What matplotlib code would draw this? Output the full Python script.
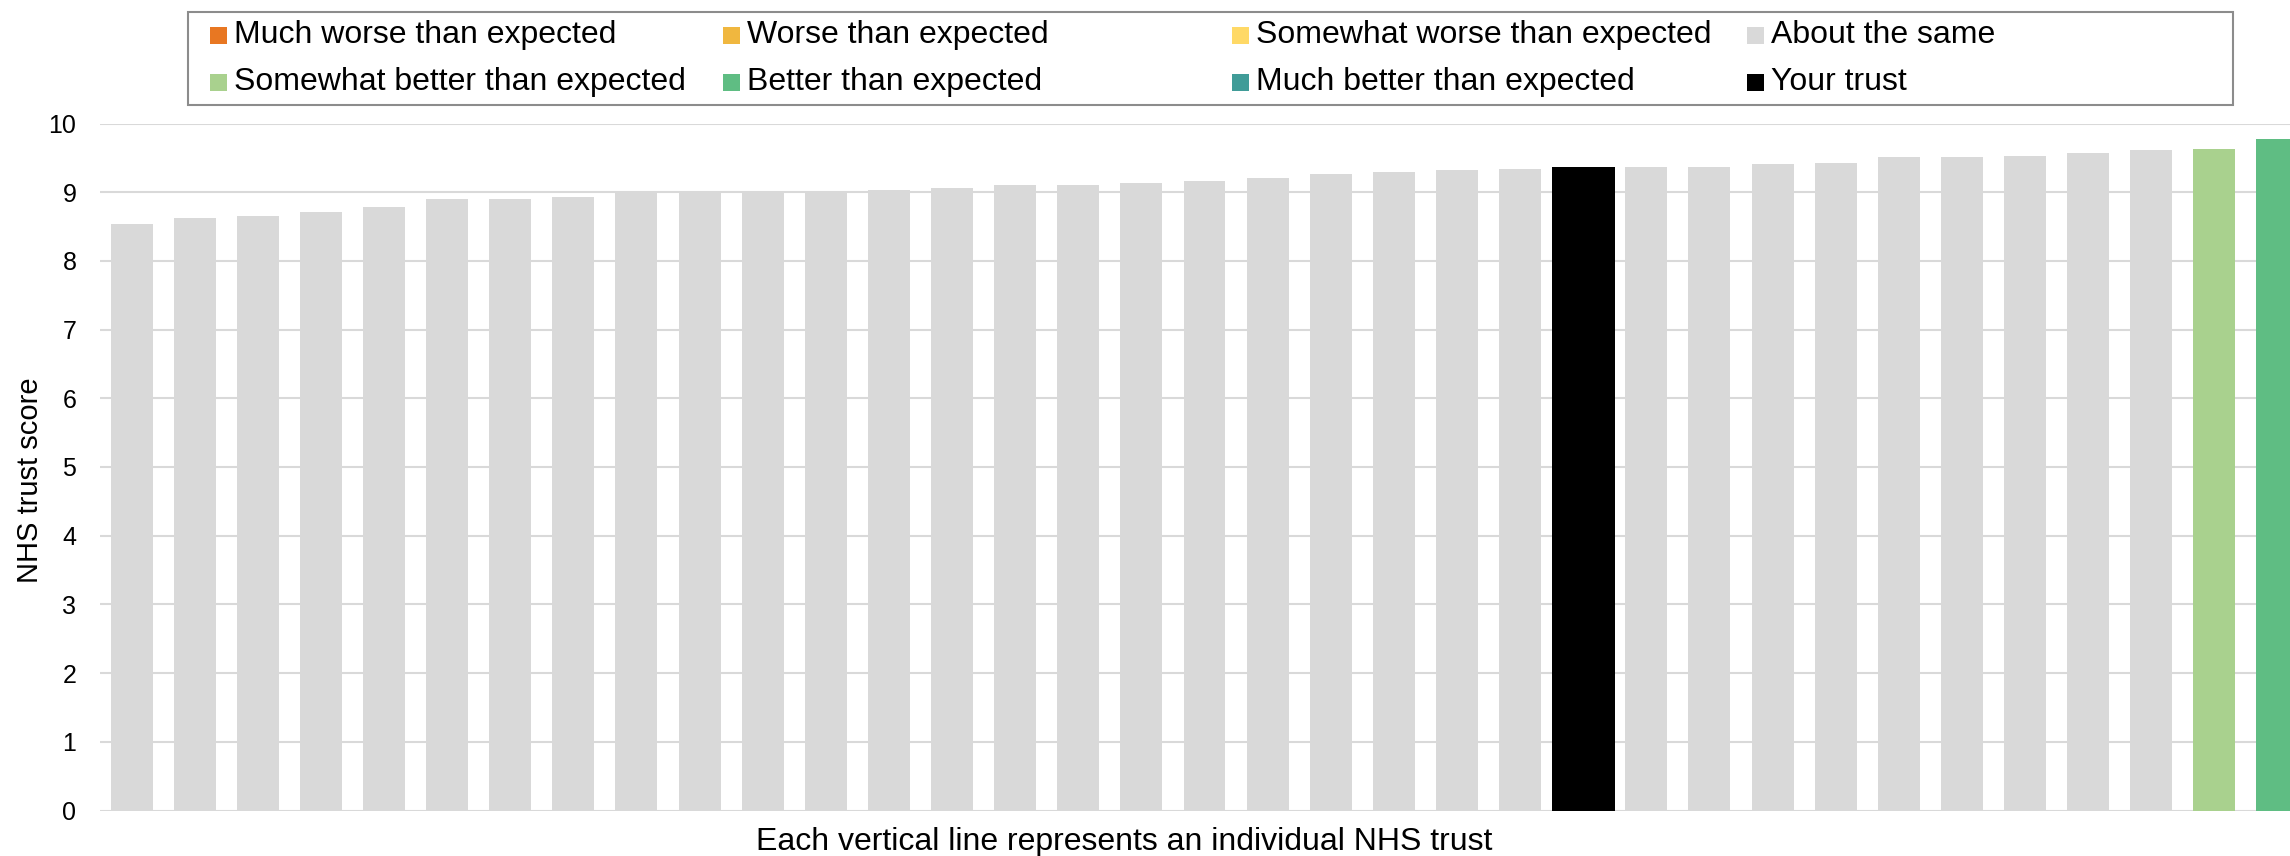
import numpy as np
import matplotlib
matplotlib.use("Agg")
import matplotlib.pyplot as plt
from matplotlib.patches import Rectangle

plt.rcParams['font.family'] = ['Liberation Sans', 'DejaVu Sans']

# legend categories and their colours
categories = ["Much worse than expected", "Worse than expected",
              "Somewhat worse than expected", "About the same",
              "Somewhat better than expected", "Better than expected",
              "Much better than expected", "Your trust"]
cat_colors = ["#E87722", "#F0B73F", "#FFD966", "#D9D9D9",
              "#A9D18E", "#5FBD83", "#409C98", "#000000"]

# trust scores, sorted, and the category of each bar
scores = [8.54, 8.62, 8.65, 8.71, 8.79, 8.90, 8.90, 8.93, 8.99, 9.00,
          9.00, 9.00, 9.03, 9.06, 9.10, 9.11, 9.14, 9.16, 9.21, 9.27,
          9.30, 9.33, 9.34, 9.37, 9.37, 9.37, 9.41, 9.43, 9.51, 9.51,
          9.53, 9.57, 9.61, 9.63, 9.78]
bar_cats = (["About the same"] * 23 + ["Your trust"] + ["About the same"] * 9
            + ["Somewhat better than expected", "Better than expected"])

yticks = list(range(0, 11))
ylabel = "NHS trust score"
xlabel = "Each vertical line represents an individual NHS trust"

W, H = 2290, 856


def fx(px):
    return px / W


def fy(py):
    return 1 - py / H


fig = plt.figure(figsize=(W / 100, H / 100), dpi=100)
ax = fig.add_axes([fx(100), fy(810.5), (2309 - 100) / W, (810.5 - 123.5) / H])

color_of = dict(zip(categories, cat_colors))
x = np.arange(len(scores))
widths = [1.0 if c == "Your trust" else 0.665 for c in bar_cats]
ax.bar(x, scores, width=widths, color=[color_of[c] for c in bar_cats],
       zorder=3)

ax.set_xlim(-0.5, len(scores) - 0.5)
ax.set_ylim(0, 10)
ax.set_yticks(yticks)
ax.set_xticks([])
ax.tick_params(axis='y', length=0, pad=17, labelsize=18)
ax.grid(axis='y', color='#D9D9D9', linewidth=1.5, zorder=0)
for s in ax.spines.values():
    s.set_visible(False)

fig.text(fx(30), fy(480), ylabel, rotation=90, ha='center', va='center',
         fontsize=21)
fig.text(fx(1124), fy(842), xlabel, ha='center', va='center', fontsize=23)

# legend box, drawn by hand so the columns are evenly spaced
fig.add_artist(Rectangle((fx(188), fy(105)), fx(2233) - fx(188),
                         fy(12) - fy(105), transform=fig.transFigure,
                         facecolor='white', edgecolor='#8C8C8C',
                         linewidth=1.5))
col_x = [210, 723, 1232, 1747]
row_y = [35, 82]
for i, (lab, col) in enumerate(zip(categories, cat_colors)):
    cx = col_x[i % 4]
    cy = row_y[i // 4]
    fig.add_artist(Rectangle((fx(cx), fy(cy + 8.5)), 17 / W, 17 / H,
                             transform=fig.transFigure, facecolor=col,
                             edgecolor='none'))
    fig.text(fx(cx + 24), fy(cy), lab, ha='left', va='center', fontsize=23)

fig.savefig("out.png", dpi=100)
